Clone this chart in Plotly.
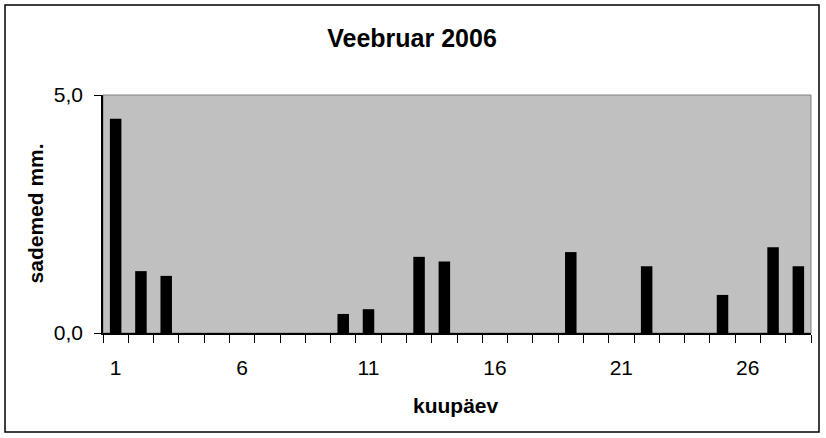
import plotly.graph_objects as go

days = list(range(1, 29))
precip = [4.5, 1.3, 1.2, 0, 0, 0, 0, 0, 0, 0.4, 0.5, 0, 1.6, 1.5, 0,
          0, 0, 0, 1.7, 0, 0, 1.4, 0, 0, 0.8, 0, 1.8, 1.4]
x_tick_vals = [1, 6, 11, 16, 21, 26]
x_tick_text = ["1", "6", "11", "16", "21", "26"]
y_tick_vals = [0, 5]

title_text = "Veebruar 2006"
x_title = "kuupäev"
y_title = "sademed mm."

FONT = "Liberation Sans, Arial, sans-serif"

fig = go.Figure()
fig.add_trace(go.Bar(x=days, y=precip, marker=dict(color="black", line=dict(width=0)),
                     hoverinfo="x+y"))

fig.update_layout(
    width=826, height=438,
    margin=dict(l=103, r=15, t=95, b=105, pad=0),
    paper_bgcolor="white",
    plot_bgcolor="#C0C0C0",
    separators=",.",
    bargap=0.545,
    showlegend=False,
    font=dict(family=FONT, size=21, color="black"),
    title=dict(text="<b>" + title_text + "</b>", x=0.4988, xref="container", xanchor="center",
               y=0.9128, yref="container", yanchor="middle",
               font=dict(family=FONT, size=25, color="black")),
    xaxis=dict(
        range=[0.5, 28.5], tickmode="array", tickvals=x_tick_vals, ticktext=x_tick_text,
        ticks="", showgrid=False, zeroline=False,
        showline=True, linecolor="black", linewidth=1.5,
        ticklabelstandoff=15,
        tickfont=dict(family=FONT, size=21, color="black"),
        minor=dict(tick0=0.5, dtick=1, ticks="outside", ticklen=8, tickcolor="black",
                   tickwidth=1.2, showgrid=False),
    ),
    yaxis=dict(
        range=[0, 5], tickmode="array", tickvals=y_tick_vals, tickformat=".1f",
        ticks="outside", ticklen=7, tickcolor="black", tickwidth=1.2,
        showgrid=False, zeroline=False,
        showline=True, linecolor="black", linewidth=1.5,
        ticklabelstandoff=7,
        tickfont=dict(family=FONT, size=21, color="black"),
    ),
    shapes=[
        dict(type="rect", xref="paper", yref="paper", x0=0, x1=1, y0=0, y1=1,
             line=dict(color="#808080", width=1), layer="below"),
        dict(type="rect", xref="paper", yref="paper", x0=-0.1384, x1=1.0113,
             y0=-0.416, y1=1.378, line=dict(color="black", width=1.5), layer="above"),
    ],
    annotations=[
        dict(text="<b>" + y_title + "</b>", xref="paper", yref="paper", x=-0.0955, y=0.504,
             xanchor="center", yanchor="middle", textangle=-90, showarrow=False,
             font=dict(family=FONT, size=21, color="black")),
        dict(text="<b>" + x_title + "</b>", xref="paper", yref="paper", x=0.498, y=-0.303,
             xanchor="center", yanchor="middle", showarrow=False,
             font=dict(family=FONT, size=21, color="black")),
    ],
)

fig.write_html("out.html", config={"displayModeBar": False},
               post_script="document.body.style.margin='0';document.body.style.padding='0';")
